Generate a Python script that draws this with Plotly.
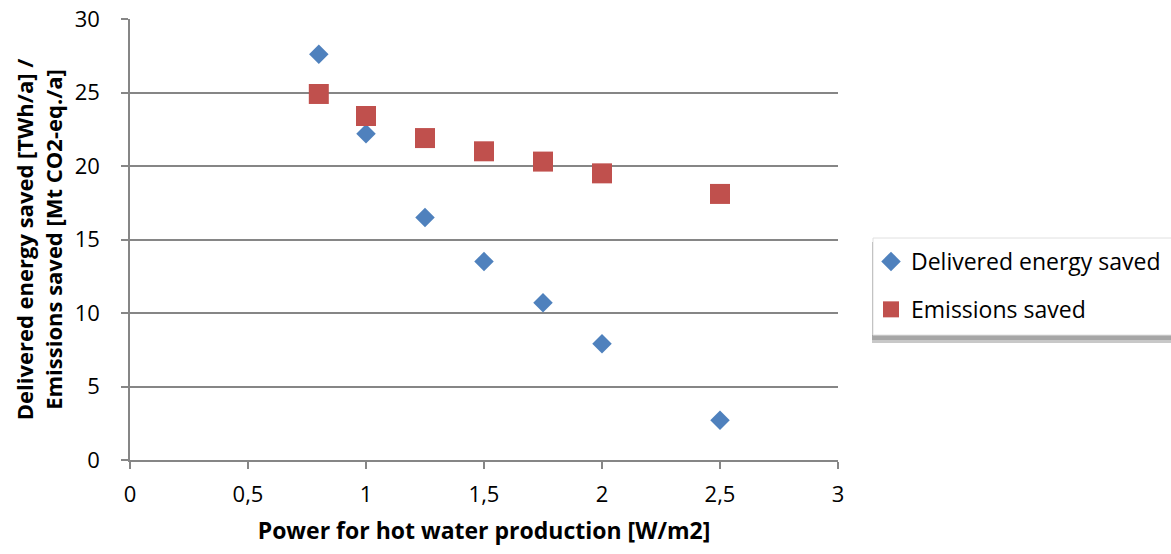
import plotly.graph_objects as go

# Power for hot water production [W/m2]
power = [0.8, 1.0, 1.25, 1.5, 1.75, 2.0, 2.5]
# Delivered energy saved [TWh/a]
energy_saved = [27.6, 22.2, 16.5, 13.5, 10.7, 7.9, 2.7]
# Emissions saved [Mt CO2-eq./a]
emissions_saved = [24.9, 23.4, 21.9, 21.0, 20.3, 19.5, 18.1]

x_ticks = [0, 0.5, 1, 1.5, 2, 2.5, 3]
x_tick_text = ["0", "0,5", "1", "1,5", "2", "2,5", "3"]
y_ticks = [0, 5, 10, 15, 20, 25, 30]

FONT = "Open Sans"
FS = 22
GRID = "#868686"

W, H = 1171, 554
L, R, T, B = 130, 333, 19, 94
pw, ph = W - L - R, H - T - B


def px_x(p):
    return (p - L) / pw


def px_y(p):
    return (H - B - p) / ph


fig = go.Figure()
fig.add_trace(go.Scatter(
    x=power, y=energy_saved, mode="markers", name="Delivered energy saved",
    legendgroup="a",
    marker=dict(symbol="diamond", size=15, color="#4F81BD",
                line=dict(width=0)),
))
fig.add_trace(go.Scatter(
    x=power, y=emissions_saved, mode="markers", name="Emissions saved",
    legendgroup="b",
    marker=dict(symbol="square", size=20, color="#C0504D",
                line=dict(width=0)),
))

# legend panel with a soft drop shadow
lx0, lx1, ly0, ly1 = 873, 1171, 238, 335
fig.add_shape(type="rect", xref="paper", yref="paper",
              x0=px_x(lx0 - 1), x1=px_x(lx1 + 2), y0=px_y(ly1 + 8), y1=px_y(ly0 + 6),
              fillcolor="#c8c8c8", line=dict(width=0), layer="below")
fig.add_shape(type="rect", xref="paper", yref="paper",
              x0=px_x(lx0 - 1), x1=px_x(lx1 + 1), y0=px_y(ly1 + 5), y1=px_y(ly0 + 4),
              fillcolor="#a6a6a6", line=dict(width=0), layer="below")
fig.add_shape(type="rect", xref="paper", yref="paper",
              x0=px_x(lx0), x1=px_x(lx1 + 2), y0=px_y(ly1), y1=px_y(ly0),
              fillcolor="white", line=dict(color="#e0e0e0", width=1), layer="below")

fig.update_layout(
    width=W, height=H,
    margin=dict(l=L, r=R, t=T, b=B, autoexpand=False),
    paper_bgcolor="white", plot_bgcolor="white",
    font=dict(family=FONT, size=FS, color="#000000"),
    showlegend=True,
    legend=dict(
        x=px_x(lx0 - 2), y=px_y(ly0 + 2), xanchor="left", yanchor="top",
        bgcolor="rgba(0,0,0,0)", borderwidth=0,
        font=dict(family=FONT, size=23, color="#000000"),
        traceorder="grouped", tracegroupgap=15,
        itemsizing="trace",
    ),
    xaxis=dict(
        range=[0, 3], tickvals=x_ticks, ticktext=x_tick_text,
        automargin=False,
        showgrid=False, zeroline=False,
        showline=True, linecolor=GRID, linewidth=1.5,
        ticks="outside", ticklen=7, tickcolor=GRID, tickwidth=1.5,
        tickfont=dict(family=FONT, size=FS),
        ticklabelstandoff=7,
        title=dict(text="<b>Power for hot water production [W/m2]</b>",
                   font=dict(family=FONT, size=23), standoff=16),
    ),
    yaxis=dict(
        range=[0, 30], tickvals=y_ticks,
        automargin=False,
        showgrid=True, gridcolor=GRID, gridwidth=1.5,
        zeroline=False,
        showline=True, linecolor=GRID, linewidth=1.5,
        ticks="outside", ticklen=7, tickcolor=GRID, tickwidth=1.5,
        tickfont=dict(family=FONT, size=FS),
        ticklabelstandoff=17,
        title=dict(text="<b>Delivered energy saved [TWh/a] /<br>Emissions saved [Mt CO2-eq./a]</b>",
                   font=dict(family=FONT, size=FS), standoff=6),
    ),
)

fig.write_html("out.html")
